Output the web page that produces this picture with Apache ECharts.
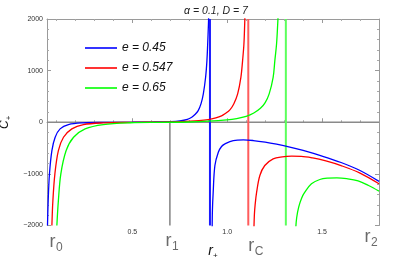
<!DOCTYPE html>
<html><head><meta charset="utf-8">
<script src="https://cdn.jsdelivr.net/npm/echarts@6/dist/echarts.min.js"></script>
<style>html,body{margin:0;padding:0;background:#fff}#c{width:415px;height:259px}</style>
</head><body><div id="c"></div>
<script>
const titleText = 'α = 0.1, D = 7';
const seriesNames = ['e = 0.45', 'e = 0.547', 'e = 0.65'];
const colors = ['#0000ff', '#ff0000', '#00ff00'];
const asymColors = ['#1a1aff', '#ff5c5c', '#5cff5c'];
const xTicks = [0.5, 1.0, 1.5];
const xMinorTicks = [0.1,0.2,0.3,0.4,0.6,0.7,0.8,0.9,1.1,1.2,1.3,1.4,1.6,1.7];
const rLabels = [['r','0',0.1],['r','1',0.712],['r','C',1.148],['r','2',1.76]];
const r1Line = 0.698;
const asymptotes = [0.909, 1.111, 1.309];

const blueLeft = [[0.0526,-2000],[0.0563,-1519],[0.063,-999],[0.0758,-548],[0.093,-290],[0.119,-128],[0.163,-45],[0.24,-12],[0.35,-4],[0.5,0],[0.6,4],[0.7,12],[0.75,25],[0.79,55],[0.813,97],[0.83,150],[0.847,226],[0.862,360],[0.874,550],[0.886,871],[0.893,1194],[0.897,1517],[0.901,1900],[0.9025,2100]];
const blueRight = [[0.9205,-2100],[0.922,-1700],[0.926,-1355],[0.935,-838],[0.953,-581],[0.97,-470],[0.988,-419],[1.032,-354],[1.085,-341],[1.137,-354],[1.2,-385],[1.26,-425],[1.33,-480],[1.4,-545],[1.5,-655],[1.6,-780],[1.7,-935],[1.8,-1145]];
const redLeft = [[0.0758,-2000],[0.081,-1519],[0.0916,-999],[0.11,-548],[0.137,-290],[0.181,-128],[0.242,-45],[0.346,-12],[0.5,-3],[0.65,3],[0.75,12],[0.85,30],[0.9,50],[0.94,85],[0.97,125],[0.99,170],[1.014,240],[1.035,360],[1.055,550],[1.072,871],[1.081,1194],[1.088,1517],[1.092,1900],[1.0935,2100]];
const redRight = [[1.1405,-2100],[1.143,-1800],[1.147,-1600],[1.155,-1355],[1.172,-1032],[1.198,-838],[1.242,-709],[1.29,-670],[1.34,-658],[1.39,-660],[1.45,-690],[1.52,-750],[1.6,-840],[1.7,-985],[1.8,-1192]];
const greenLeft = [[0.102,-2000],[0.11,-1519],[0.123,-999],[0.151,-548],[0.19,-290],[0.251,-128],[0.347,-45],[0.49,-10],[0.65,-2],[0.8,5],[0.9,20],[0.997,46],[1.05,72],[1.1,115],[1.14,180],[1.175,270],[1.2,380],[1.221,550],[1.242,871],[1.251,1194],[1.26,1517],[1.266,1900],[1.2685,2100]];
const greenRight = [[1.3605,-2100],[1.366,-1850],[1.377,-1640],[1.392,-1470],[1.409,-1355],[1.444,-1193],[1.488,-1109],[1.53,-1082],[1.578,-1076],[1.63,-1092],[1.69,-1135],[1.745,-1225],[1.8,-1335]];

const branches = [[blueLeft, blueRight],[redLeft, redRight],[greenLeft, greenRight]];
const FONT = 'Liberation Sans';

const chart = echarts.init(document.getElementById('c'), null, {renderer: 'canvas'});

const series = [];
series.push({type:'line', xAxisIndex:0, yAxisIndex:0, data:[[0.05,0],[1.8,0]], symbol:'none', silent:true,
  lineStyle:{color:'#8a8a8a', width:1.5}, z:1});
series.push({type:'line', xAxisIndex:0, yAxisIndex:0, data:[[r1Line,0],[r1Line,-2000]], symbol:'none', silent:true,
  lineStyle:{color:'#444', width:1}, z:1});
asymptotes.forEach((a,i)=>{
  series.push({type:'line', xAxisIndex:0, yAxisIndex:0, data:[[a,-2000],[a,2000]], symbol:'none', silent:true,
    lineStyle:{color:asymColors[i], width:2}, z:2});
});
branches.forEach((b,i)=>{
  series.push({type:'line', name:seriesNames[i], xAxisIndex:0, yAxisIndex:0, data:b[0], symbol:'none',
    smooth:0.35, lineStyle:{color:colors[i], width:1.3}, itemStyle:{color:colors[i]}, z:3});
  series.push({type:'line', name:seriesNames[i], xAxisIndex:0, yAxisIndex:0, data:b[1], symbol:'none',
    smooth:0.35, lineStyle:{color:colors[i], width:1.3}, itemStyle:{color:colors[i]}, z:3});
});

const axisLineStyle = {color:'#9a9a9a', width:1};
const option = {
  animation:false,
  backgroundColor:'#fff',
  title:{text:titleText, left:211, top:1, textAlign:'center',
    textStyle:{fontFamily:FONT, fontStyle:'italic', fontWeight:'normal', fontSize:10.5, color:'#222'}},
  legend:{data:seriesNames, left:80, top:36, orient:'vertical', icon:'rect', itemWidth:32, itemHeight:1.6, itemGap:6,
    textStyle:{fontFamily:FONT, fontStyle:'italic', fontSize:12, color:'#111', lineHeight:14}, selectedMode:false},
  grid:{left:47, right:36, top:19, bottom:33.5, containLabel:false, outerBoundsMode:'none'},
  xAxis:[
    {type:'value', position:'bottom', min:0.05, max:1.8,
      axisLine:{show:true, lineStyle:axisLineStyle},
      axisTick:{show:true, inside:true, length:4, customValues:xTicks, lineStyle:{color:'#9a9a9a'}},
      axisLabel:{show:true, customValues:xTicks, fontFamily:FONT, fontSize:7, color:'#333', margin:3,
        formatter:v=>v.toFixed(1)},
      splitLine:{show:false},
      name:'{a|r}{b|+}', nameLocation:'middle', nameGap:17,
      nameTextStyle:{rich:{a:{fontFamily:FONT, fontStyle:'italic', fontSize:14, color:'#111'},
                           b:{fontFamily:FONT, fontSize:8, color:'#111', padding:[9,0,0,0]}}}},
    {type:'value', position:'bottom', min:0.05, max:1.8,
      axisLine:{show:false}, axisTick:{show:true, inside:true, length:2, customValues:xMinorTicks, lineStyle:{color:'#a8a8a8'}},
      axisLabel:{show:false}, splitLine:{show:false}},
    {type:'value', position:'top', min:0.05, max:1.8,
      axisLine:{show:true, lineStyle:axisLineStyle},
      axisTick:{show:true, inside:true, length:4, customValues:xTicks, lineStyle:{color:'#9a9a9a'}},
      axisLabel:{show:false}, splitLine:{show:false}},
    {type:'value', position:'top', min:0.05, max:1.8,
      axisLine:{show:false}, axisTick:{show:true, inside:true, length:2, customValues:xMinorTicks, lineStyle:{color:'#a8a8a8'}},
      axisLabel:{show:false}, splitLine:{show:false}}
  ],
  yAxis:[
    {type:'value', position:'left', min:-2000, max:2000, interval:1000,
      axisLine:{show:true, lineStyle:axisLineStyle},
      axisTick:{show:true, inside:true, length:4, lineStyle:{color:'#9a9a9a'}},
      minorTick:{show:true, splitNumber:5, length:2, lineStyle:{color:'#a8a8a8'}},
      axisLabel:{fontFamily:FONT, fontSize:7, color:'#333', margin:4,
        formatter:v=> v<0 ? '\u2212'+Math.abs(v) : String(v)},
      splitLine:{show:false},
      name:'{a|C}{b|+}', nameLocation:'middle', nameGap:31, nameRotate:90,
      nameTextStyle:{rich:{a:{fontFamily:FONT, fontStyle:'italic', fontSize:12, color:'#111'},
                           b:{fontFamily:FONT, fontSize:8, color:'#111', padding:[7,0,0,0]}}}},
    {type:'value', position:'right', min:-2000, max:2000, interval:1000,
      axisLine:{show:true, lineStyle:axisLineStyle},
      axisTick:{show:true, inside:true, length:4, lineStyle:{color:'#9a9a9a'}},
      minorTick:{show:true, splitNumber:5, length:2, lineStyle:{color:'#a8a8a8'}},
      axisLabel:{show:false}, splitLine:{show:false}}
  ],
  series:series
};
chart.setOption(option);

const yOff = {'0':0, '1':-1, 'C':4, '2':-5};
const graphics = [];
rLabels.forEach(l=>{
  const px = chart.convertToPixel({xAxisIndex:0}, l[2]);
  const base = 251 + yOff[l[1]];
  graphics.push({type:'text', x:px-7, y:base, silent:true,
    style:{text:l[0], font:'18px "Liberation Sans"', fill:'#6a6a6a', verticalAlign:'bottom', align:'left'}});
  graphics.push({type:'text', x:px-0.5, y:base+3, silent:true,
    style:{text:l[1], font:'12px "Liberation Sans"', fill:'#6a6a6a', verticalAlign:'bottom', align:'left'}});
});
chart.setOption({graphic:graphics});
</script></body></html>
